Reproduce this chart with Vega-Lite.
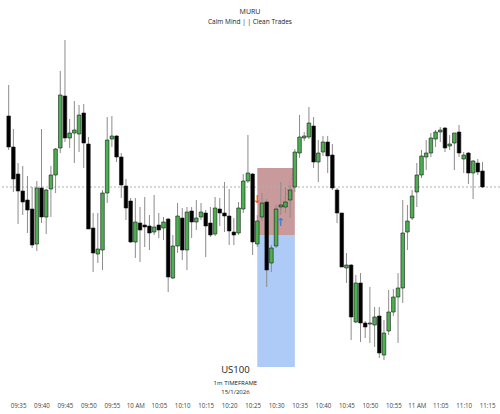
{
  "$schema": "https://vega.github.io/schema/vega-lite/v6.json",
  "width": 500,
  "height": 368,
  "autosize": "none",
  "padding": {"top": 30, "left": 0, "right": 0, "bottom": 16},
  "background": "white",
  "config": {"view": {"stroke": null}, "font": "Open Sans", "axis": {"labelOverlap": false, "labelSeparation": 0}},
  "title": {
    "text": "MURU",
    "subtitle": "Calm Mind | | Clean Trades",
    "anchor": "middle",
    "fontSize": 7,
    "fontWeight": "normal",
    "color": "#222",
    "subtitleFontSize": 6.5,
    "subtitleColor": "#222",
    "subtitlePadding": 4,
    "offset": 5
  },
  "datasets": {
    "candleRows": [
      {"t":"2026-01-15T09:33:00Z","o":25684,"h":25715,"l":25650,"c":25653},
      {"t":"2026-01-15T09:34:00Z","o":25653,"h":25671,"l":25608,"c":25621},
      {"t":"2026-01-15T09:35:00Z","o":25626,"h":25637,"l":25576,"c":25609},
      {"t":"2026-01-15T09:36:00Z","o":25609,"h":25634,"l":25585,"c":25598},
      {"t":"2026-01-15T09:37:00Z","o":25600,"h":25624,"l":25567,"c":25590},
      {"t":"2026-01-15T09:38:00Z","o":25591,"h":25613,"l":25552,"c":25555},
      {"t":"2026-01-15T09:39:00Z","o":25556,"h":25619,"l":25549,"c":25612},
      {"t":"2026-01-15T09:40:00Z","o":25612,"h":25671,"l":25577,"c":25583},
      {"t":"2026-01-15T09:41:00Z","o":25583,"h":25611,"l":25566,"c":25610},
      {"t":"2026-01-15T09:42:00Z","o":25611,"h":25634,"l":25583,"c":25625},
      {"t":"2026-01-15T09:43:00Z","o":25625,"h":25652,"l":25607,"c":25651},
      {"t":"2026-01-15T09:44:00Z","o":25652,"h":25729,"l":25647,"c":25705},
      {"t":"2026-01-15T09:45:00Z","o":25704,"h":25760,"l":25658,"c":25662},
      {"t":"2026-01-15T09:46:00Z","o":25662,"h":25681,"l":25652,"c":25667},
      {"t":"2026-01-15T09:47:00Z","o":25667,"h":25699,"l":25637,"c":25670},
      {"t":"2026-01-15T09:48:00Z","o":25666,"h":25695,"l":25648,"c":25685},
      {"t":"2026-01-15T09:49:00Z","o":25687,"h":25696,"l":25632,"c":25657},
      {"t":"2026-01-15T09:50:00Z","o":25656,"h":25663,"l":25571,"c":25571},
      {"t":"2026-01-15T09:51:00Z","o":25572,"h":25587,"l":25528,"c":25547},
      {"t":"2026-01-15T09:52:00Z","o":25546,"h":25587,"l":25537,"c":25551},
      {"t":"2026-01-15T09:53:00Z","o":25550,"h":25610,"l":25530,"c":25607},
      {"t":"2026-01-15T09:54:00Z","o":25607,"h":25683,"l":25597,"c":25660},
      {"t":"2026-01-15T09:55:00Z","o":25661,"h":25684,"l":25653,"c":25664},
      {"t":"2026-01-15T09:56:00Z","o":25664,"h":25665,"l":25638,"c":25643},
      {"t":"2026-01-15T09:57:00Z","o":25643,"h":25647,"l":25602,"c":25615},
      {"t":"2026-01-15T09:58:00Z","o":25614,"h":25621,"l":25580,"c":25592},
      {"t":"2026-01-15T09:59:00Z","o":25599,"h":25602,"l":25557,"c":25558},
      {"t":"2026-01-15T10:00:00Z","o":25558,"h":25602,"l":25542,"c":25578},
      {"t":"2026-01-15T10:01:00Z","o":25577,"h":25593,"l":25538,"c":25570},
      {"t":"2026-01-15T10:02:00Z","o":25575,"h":25603,"l":25553,"c":25573},
      {"t":"2026-01-15T10:03:00Z","o":25574,"h":25585,"l":25550,"c":25567},
      {"t":"2026-01-15T10:04:00Z","o":25568,"h":25605,"l":25565,"c":25573},
      {"t":"2026-01-15T10:05:00Z","o":25575,"h":25587,"l":25562,"c":25570},
      {"t":"2026-01-15T10:06:00Z","o":25572,"h":25583,"l":25560,"c":25578},
      {"t":"2026-01-15T10:07:00Z","o":25581,"h":25582,"l":25508,"c":25523},
      {"t":"2026-01-15T10:08:00Z","o":25522,"h":25565,"l":25521,"c":25554},
      {"t":"2026-01-15T10:09:00Z","o":25554,"h":25597,"l":25547,"c":25584},
      {"t":"2026-01-15T10:10:00Z","o":25582,"h":25592,"l":25540,"c":25550},
      {"t":"2026-01-15T10:11:00Z","o":25550,"h":25593,"l":25530,"c":25588},
      {"t":"2026-01-15T10:12:00Z","o":25589,"h":25593,"l":25562,"c":25578},
      {"t":"2026-01-15T10:13:00Z","o":25578,"h":25600,"l":25570,"c":25582},
      {"t":"2026-01-15T10:14:00Z","o":25583,"h":25597,"l":25580,"c":25588},
      {"t":"2026-01-15T10:15:00Z","o":25587,"h":25590,"l":25543,"c":25574},
      {"t":"2026-01-15T10:16:00Z","o":25577,"h":25593,"l":25563,"c":25565},
      {"t":"2026-01-15T10:17:00Z","o":25566,"h":25603,"l":25564,"c":25592},
      {"t":"2026-01-15T10:18:00Z","o":25591,"h":25602,"l":25574,"c":25587},
      {"t":"2026-01-15T10:19:00Z","o":25587,"h":25618,"l":25568,"c":25584},
      {"t":"2026-01-15T10:20:00Z","o":25584,"h":25611,"l":25555,"c":25569},
      {"t":"2026-01-15T10:21:00Z","o":25568,"h":25582,"l":25555,"c":25565},
      {"t":"2026-01-15T10:22:00Z","o":25567,"h":25598,"l":25565,"c":25592},
      {"t":"2026-01-15T10:23:00Z","o":25591,"h":25626,"l":25587,"c":25619},
      {"t":"2026-01-15T10:24:00Z","o":25619,"h":25665,"l":25617,"c":25627},
      {"t":"2026-01-15T10:25:00Z","o":25626,"h":25627,"l":25545,"c":25558},
      {"t":"2026-01-15T10:26:00Z","o":25556,"h":25585,"l":25553,"c":25579},
      {"t":"2026-01-15T10:27:00Z","o":25583,"h":25607,"l":25579,"c":25597},
      {"t":"2026-01-15T10:28:00Z","o":25598,"h":25601,"l":25513,"c":25530},
      {"t":"2026-01-15T10:29:00Z","o":25537,"h":25555,"l":25528,"c":25552},
      {"t":"2026-01-15T10:30:00Z","o":25554,"h":25595,"l":25552,"c":25591},
      {"t":"2026-01-15T10:31:00Z","o":25593,"h":25618,"l":25585,"c":25595},
      {"t":"2026-01-15T10:32:00Z","o":25593,"h":25613,"l":25587,"c":25598},
      {"t":"2026-01-15T10:33:00Z","o":25600,"h":25615,"l":25582,"c":25610},
      {"t":"2026-01-15T10:34:00Z","o":25613,"h":25651,"l":25608,"c":25648},
      {"t":"2026-01-15T10:35:00Z","o":25647,"h":25685,"l":25642,"c":25663},
      {"t":"2026-01-15T10:36:00Z","o":25662,"h":25668,"l":25659,"c":25664},
      {"t":"2026-01-15T10:37:00Z","o":25663,"h":25693,"l":25661,"c":25677},
      {"t":"2026-01-15T10:38:00Z","o":25674,"h":25683,"l":25632,"c":25638},
      {"t":"2026-01-15T10:39:00Z","o":25638,"h":25660,"l":25618,"c":25647},
      {"t":"2026-01-15T10:40:00Z","o":25648,"h":25664,"l":25644,"c":25658},
      {"t":"2026-01-15T10:41:00Z","o":25658,"h":25664,"l":25627,"c":25644},
      {"t":"2026-01-15T10:42:00Z","o":25645,"h":25656,"l":25610,"c":25612},
      {"t":"2026-01-15T10:43:00Z","o":25610,"h":25612,"l":25577,"c":25587},
      {"t":"2026-01-15T10:44:00Z","o":25587,"h":25587,"l":25533,"c":25533},
      {"t":"2026-01-15T10:45:00Z","o":25532,"h":25547,"l":25517,"c":25535},
      {"t":"2026-01-15T10:46:00Z","o":25535,"h":25536,"l":25460,"c":25483},
      {"t":"2026-01-15T10:47:00Z","o":25478,"h":25525,"l":25477,"c":25517},
      {"t":"2026-01-15T10:48:00Z","o":25517,"h":25527,"l":25458,"c":25477},
      {"t":"2026-01-15T10:49:00Z","o":25477,"h":25479,"l":25462,"c":25473},
      {"t":"2026-01-15T10:50:00Z","o":25476,"h":25513,"l":25457,"c":25477},
      {"t":"2026-01-15T10:51:00Z","o":25475,"h":25493,"l":25453,"c":25483},
      {"t":"2026-01-15T10:52:00Z","o":25484,"h":25493,"l":25442,"c":25447},
      {"t":"2026-01-15T10:53:00Z","o":25445,"h":25480,"l":25440,"c":25467},
      {"t":"2026-01-15T10:54:00Z","o":25469,"h":25510,"l":25465,"c":25488},
      {"t":"2026-01-15T10:55:00Z","o":25488,"h":25511,"l":25484,"c":25503},
      {"t":"2026-01-15T10:56:00Z","o":25503,"h":25527,"l":25457,"c":25512},
      {"t":"2026-01-15T10:57:00Z","o":25512,"h":25600,"l":25497,"c":25567},
      {"t":"2026-01-15T10:58:00Z","o":25568,"h":25595,"l":25550,"c":25579},
      {"t":"2026-01-15T10:59:00Z","o":25582,"h":25610,"l":25580,"c":25604},
      {"t":"2026-01-15T11:00:00Z","o":25608,"h":25637,"l":25593,"c":25625},
      {"t":"2026-01-15T11:01:00Z","o":25625,"h":25650,"l":25622,"c":25644},
      {"t":"2026-01-15T11:02:00Z","o":25643,"h":25660,"l":25630,"c":25647},
      {"t":"2026-01-15T11:03:00Z","o":25647,"h":25667,"l":25643,"c":25662},
      {"t":"2026-01-15T11:04:00Z","o":25661,"h":25670,"l":25653,"c":25668},
      {"t":"2026-01-15T11:05:00Z","o":25668,"h":25673,"l":25658,"c":25670},
      {"t":"2026-01-15T11:06:00Z","o":25672,"h":25673,"l":25648,"c":25652},
      {"t":"2026-01-15T11:07:00Z","o":25654,"h":25665,"l":25650,"c":25656},
      {"t":"2026-01-15T11:08:00Z","o":25657,"h":25667,"l":25630,"c":25667},
      {"t":"2026-01-15T11:09:00Z","o":25668,"h":25675,"l":25643,"c":25647},
      {"t":"2026-01-15T11:10:00Z","o":25641,"h":25648,"l":25627,"c":25645},
      {"t":"2026-01-15T11:11:00Z","o":25647,"h":25648,"l":25616,"c":25627},
      {"t":"2026-01-15T11:12:00Z","o":25627,"h":25640,"l":25601,"c":25639},
      {"t":"2026-01-15T11:13:00Z","o":25637,"h":25641,"l":25625,"c":25628},
      {"t":"2026-01-15T11:14:00Z","o":25629,"h":25638,"l":25612,"c":25613}
    ],
    "zoneRows": [
      {"side":"stop","t1":"2026-01-15T10:26:00Z","t2":"2026-01-15T10:34:00Z","p1":25632,"p2":25565},
      {"side":"target","t1":"2026-01-15T10:26:00Z","t2":"2026-01-15T10:34:00Z","p1":25565,"p2":25433}
    ],
    "sellRows": [{"t":"2026-01-15T10:26:00Z","p":25600}],
    "buyRows": [{"t":"2026-01-15T10:30:55Z","p":25577}],
    "pathRows": [{"t1":"2026-01-15T10:31:00Z","t2":"2026-01-15T10:34:00Z","p1":25590,"p2":25632}],
    "tickerRows": [{"t":"2026-01-15T10:21:20Z","p":25430,"label":"US100"}],
    "infoRows": [
      {"t":"2026-01-15T10:21:20Z","p":25417,"label":"1m TIMEFRAME"},
      {"t":"2026-01-15T10:21:20Z","p":25408,"label":"15/1/2026"}
    ]
  },
  "layer": [
    {
      "data": {"name": "zoneRows"},
      "mark": {"type": "rect"},
      "encoding": {
        "x": {"field": "t1", "type": "temporal", "scale": {"type": "utc", "domain": [1768469533000, 1768475800000]},
              "axis": {"title": null, "format": "%H:%M", "formatType": "utc", "tickCount": 21, "values": [1768469700000,1768470000000,1768470300000,1768470600000,1768470900000,1768471200000,1768471500000,1768471800000,1768472100000,1768472400000,1768472700000,1768473000000,1768473300000,1768473600000,1768473900000,1768474200000,1768474500000,1768474800000,1768475100000,1768475400000,1768475700000], "grid": false, "domain": false, "ticks": false, "labelPadding": 4, "labelFontSize": 6.2, "labelColor": "#444", "labelFlush": false, "labelOverlap": false, "labelSeparation": 0}},
        "x2": {"field": "t2"},
        "y": {"field": "p1", "type": "quantitative", "scale": {"domain": [25402, 25770], "nice": false, "zero": false}, "axis": null},
        "y2": {"field": "p2"},
        "color": {"field": "side", "type": "nominal", "scale": {"domain": ["stop", "target"], "range": ["#c99a9b", "#aecaf6"]}, "legend": null}
      }
    },
    {
      "data": {"values": [{}]},
      "mark": {"type": "rule", "color": "#b0b0b0", "strokeDash": [2, 2], "strokeWidth": 1},
      "encoding": {"y": {"datum": 25613, "type": "quantitative"}}
    },
    {
      "data": {"name": "pathRows"},
      "mark": {"type": "rule", "color": "#9a8080", "strokeDash": [2, 2], "strokeWidth": 0.8, "opacity": 0.7},
      "encoding": {
        "x": {"field": "t1", "type": "temporal"},
        "x2": {"field": "t2"},
        "y": {"field": "p1", "type": "quantitative"},
        "y2": {"field": "p2"}
      }
    },
    {
      "data": {"name": "candleRows"},
      "mark": {"type": "rule", "color": "#8c8c8c", "strokeWidth": 1},
      "encoding": {
        "x": {"field": "t", "type": "temporal"},
        "y": {"field": "l", "type": "quantitative"},
        "y2": {"field": "h"}
      }
    },
    {
      "data": {"name": "candleRows"},
      "mark": {"type": "bar", "size": 3.6, "stroke": "#1a1a1a", "strokeWidth": 0.6},
      "encoding": {
        "x": {"field": "t", "type": "temporal"},
        "y": {"field": "o", "type": "quantitative"},
        "y2": {"field": "c"},
        "color": {"condition": {"test": "datum.c >= datum.o", "value": "#4caf50"}, "value": "#000000"}
      }
    },
    {
      "data": {"name": "sellRows"},
      "mark": {"type": "text", "text": "↓", "color": "#f24e4e", "fontSize": 11, "fontWeight": "bold", "font": "DejaVu Sans"},
      "encoding": {"x": {"field": "t", "type": "temporal"}, "y": {"field": "p", "type": "quantitative"}}
    },
    {
      "data": {"name": "buyRows"},
      "mark": {"type": "text", "text": "↑", "color": "#3d7de0", "fontSize": 11, "fontWeight": "bold", "font": "DejaVu Sans"},
      "encoding": {"x": {"field": "t", "type": "temporal"}, "y": {"field": "p", "type": "quantitative"}}
    },
    {
      "data": {"name": "tickerRows"},
      "mark": {"type": "text", "fontSize": 9.5, "color": "#222"},
      "encoding": {"x": {"field": "t", "type": "temporal"}, "y": {"field": "p", "type": "quantitative"}, "text": {"field": "label"}}
    },
    {
      "data": {"name": "infoRows"},
      "mark": {"type": "text", "fontSize": 6, "color": "#222"},
      "encoding": {"x": {"field": "t", "type": "temporal"}, "y": {"field": "p", "type": "quantitative"}, "text": {"field": "label"}}
    }
  ]
}
